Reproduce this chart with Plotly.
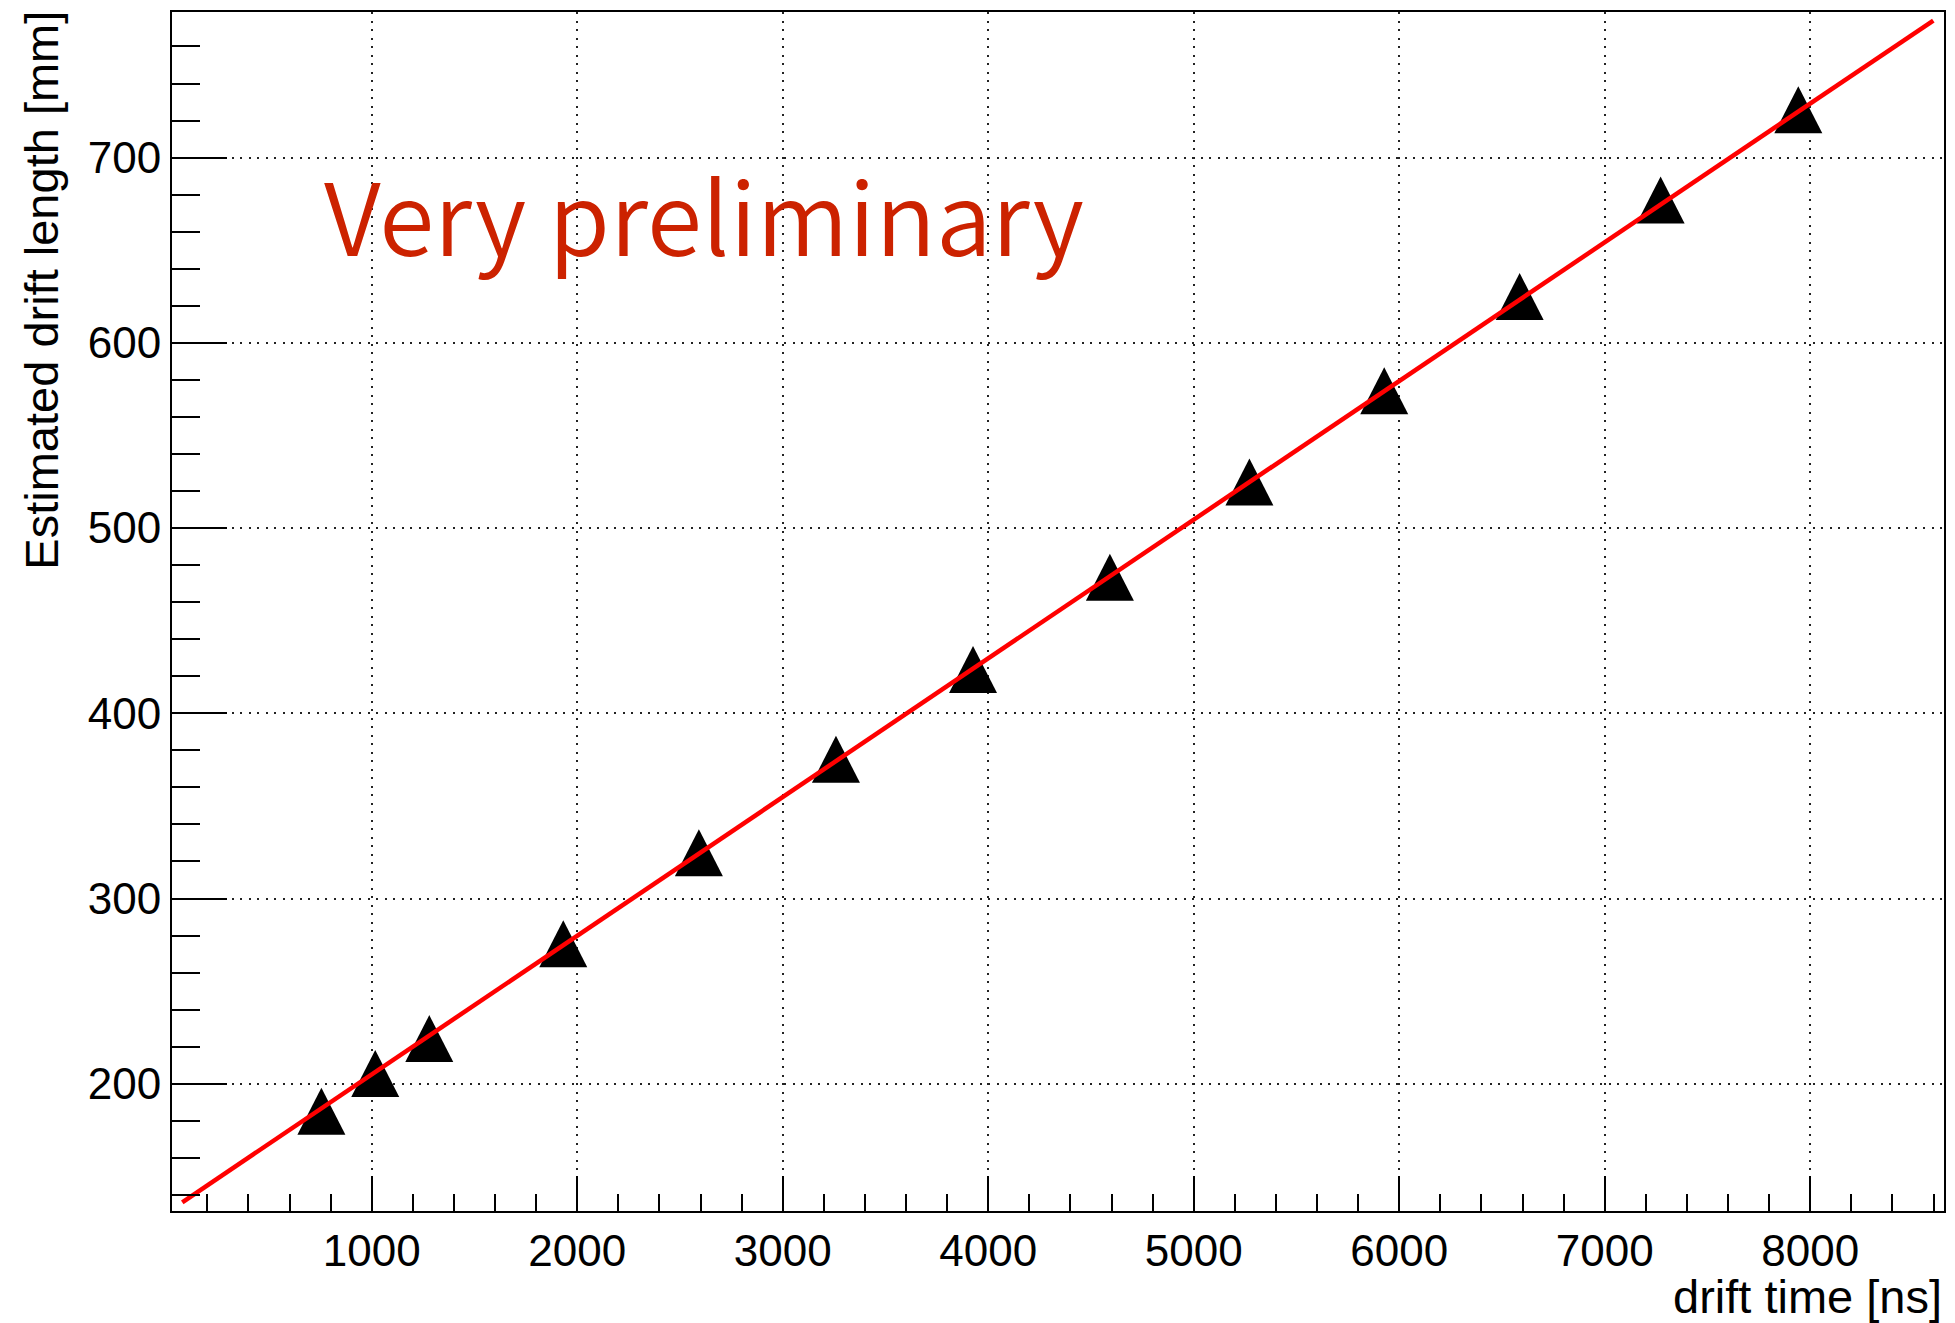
import plotly.graph_objects as go

# Measured drift time vs. estimated drift length
drift_time_ns = [755, 1017, 1280, 1932, 2592, 3259, 3926, 4592, 5271, 5927, 6586, 7272, 7942]
drift_length_mm = [184.9, 205.2, 224.1, 275.3, 324.4, 374.9, 423.4, 473.2, 524.6, 573.8, 624.7, 676.9, 725.5]

# Linear fit drawn across the axis range (end points of the fitted line)
fit_time_ns = [78, 8599]
fit_length_mm = [136, 774]

x_range = [28, 8651]
y_range = [131.3, 778.6]

W, H = 1955, 1323
L, R, T, B = 172, 9, 12, 112
PW, PH = W - L - R, H - T - B

fig = go.Figure()

# red fit line
fig.add_trace(go.Scatter(
    x=fit_time_ns, y=fit_length_mm, mode="lines",
    line=dict(color="#ff0000", width=4.5),
    hoverinfo="skip", showlegend=False,
))

# invisible points for hover on the measurements
fig.add_trace(go.Scatter(
    x=drift_time_ns, y=drift_length_mm, mode="markers",
    marker=dict(size=1, color="rgba(0,0,0,0)"),
    showlegend=False,
))

# filled up-triangles (ROOT style marker), fixed pixel size anchored at each point
shapes = []
for xv, yv in zip(drift_time_ns, drift_length_mm):
    shapes.append(dict(
        type="path", xref="x", yref="y",
        xsizemode="pixel", ysizemode="pixel",
        xanchor=xv, yanchor=yv,
        path="M-24,-23 L24,-23 L0,24 Z",
        fillcolor="black", line=dict(color="black", width=0),
        layer="between",
    ))

tick_font = dict(family="Liberation Sans, Arial, sans-serif", size=44, color="black")
title_font = dict(family="Liberation Sans, Arial, sans-serif", size=47, color="black")

fig.update_layout(
    width=W, height=H,
    margin=dict(l=L, r=R, t=T, b=B, pad=0),
    paper_bgcolor="white", plot_bgcolor="white",
    shapes=shapes,
    showlegend=False,
    xaxis=dict(
        range=x_range, tick0=0, dtick=1000,
        ticks="inside", ticklen=35, tickwidth=2, tickcolor="black",
        showline=True, linecolor="black", linewidth=2, mirror=True,
        showgrid=True, gridcolor="#222222", gridwidth=2, griddash="2px,6.5px",
        zeroline=False, tickfont=tick_font,
        minor=dict(dtick=200, tick0=0, ticks="inside", ticklen=17,
                   tickwidth=2, tickcolor="black", showgrid=False),
    ),
    yaxis=dict(
        range=y_range, tick0=0, dtick=100,
        ticks="inside", ticklen=55, tickwidth=2, tickcolor="black",
        showline=True, linecolor="black", linewidth=2, mirror=True,
        showgrid=True, gridcolor="#222222", gridwidth=2, griddash="2px,6.5px",
        zeroline=False, tickfont=tick_font,
        minor=dict(dtick=20, tick0=0, ticks="inside", ticklen=28,
                   tickwidth=2, tickcolor="black", showgrid=False),
    ),
    annotations=[
        dict(
            text="drift time [ns]", xref="paper", yref="paper",
            x=1.0, y=-(1296 - (H - B)) / PH, xanchor="right", yanchor="middle",
            showarrow=False, font=title_font,
        ),
        dict(
            text="Estimated drift length [mm]", xref="paper", yref="paper",
            x=(40.5 - L) / PW, y=1 - (290 - T) / PH, xanchor="center", yanchor="middle",
            textangle=-90, showarrow=False, font=title_font,
        ),
        dict(
            text="Very preliminary", xref="paper", yref="paper",
            x=(322 - L) / PW, y=0.8325, xanchor="left", yanchor="middle",
            showarrow=False,
            font=dict(family="Noto Sans CJK JP, Noto Sans, sans-serif", size=100,
                      color="#cc2200", weight=350),
        ),
    ],
)

fig.write_html("out.html")
